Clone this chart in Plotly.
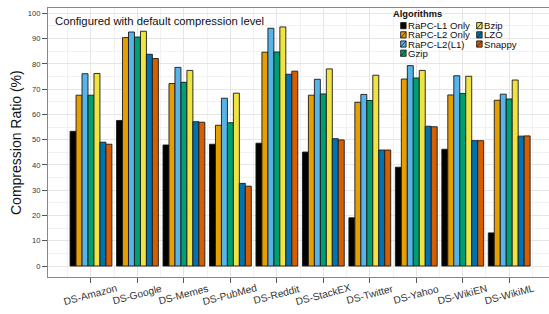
import plotly.graph_objects as go

categories = ["DS-Amazon", "DS-Google", "DS-Memes", "DS-PubMed", "DS-Reddit",
              "DS-StackEX", "DS-Twitter", "DS-Yahoo", "DS-WikiEN", "DS-WikiML"]

rapc_l1_only = [53.3, 57.6, 47.9, 48.2, 48.6, 45.1, 19.1, 39.1, 46.2, 13.1]
rapc_l2_only = [67.6, 90.4, 72.2, 55.7, 84.6, 67.6, 64.8, 74.0, 67.7, 65.6]
rapc_l2_l1 = [76.1, 92.6, 78.6, 66.4, 94.1, 73.9, 67.9, 79.3, 75.3, 68.0]
gzip = [67.6, 90.6, 72.7, 56.7, 84.7, 68.1, 65.5, 74.4, 68.3, 66.1]
bzip = [76.2, 92.9, 77.4, 68.4, 94.6, 78.0, 75.5, 77.4, 75.1, 73.6]
lzo = [49.0, 83.8, 57.1, 32.7, 75.9, 50.4, 45.9, 55.3, 49.6, 51.4]
snappy = [48.2, 82.1, 56.9, 31.6, 77.1, 49.9, 45.9, 55.1, 49.6, 51.5]

series_names = ["RaPC-L1 Only", "RaPC-L2 Only", "RaPC-L2(L1)", "Gzip", "Bzip", "LZO", "Snappy"]
series_values = [rapc_l1_only, rapc_l2_only, rapc_l2_l1, gzip, bzip, lzo, snappy]
colors = ["#000000", "#E69F00", "#56B4E9", "#009E73", "#F0E442", "#0072B2", "#D55E00"]

y_ticks = list(range(0, 101, 10))

W, H = 549, 314
PL, PR, PT, PB = 48, 0, 8, 36.5
pw = W - PL - PR
ph = H - PT - PB


def px(x):
    return (x - PL) / pw


def py(y):
    return (H - PB - y) / ph


FONT = "Liberation Sans, Arial, Helvetica, sans-serif"
xpos = list(range(len(categories)))

fig = go.Figure()
for name, vals, col in zip(series_names, series_values, colors):
    fig.add_trace(go.Bar(
        x=xpos, y=vals, name=name, showlegend=False,
        marker=dict(color=col, line=dict(color="#1a1a1a", width=0.9)),
    ))

annotations = []
# x category labels (rotated, centered on ticks)
for i, c in enumerate(categories):
    annotations.append(dict(
        x=i, xref="x", y=py(295.5), yref="paper", text=c, showarrow=False,
        textangle=-15, xanchor="center", yanchor="middle", borderpad=0,
        font=dict(family=FONT, size=10.2, color="#333333"),
    ))
# y title
annotations.append(dict(
    x=px(15.5), xref="paper", y=0.5, yref="paper", text="Compression Ratio (%)",
    showarrow=False, textangle=-90, xanchor="center", yanchor="middle", borderpad=0,
    font=dict(family=FONT, size=14, color="#111111"),
))
# inner label
annotations.append(dict(
    x=px(54), xref="paper", y=py(21.5), yref="paper",
    text="Configured with default compression level", showarrow=False, borderpad=0,
    xanchor="left", yanchor="middle", font=dict(family=FONT, size=11.3, color="#111111"),
))
# legend title
annotations.append(dict(
    x=px(392), xref="paper", y=py(14), yref="paper", text="<b>Algorithms</b>",
    showarrow=False, xanchor="left", yanchor="middle", borderpad=0,
    font=dict(family=FONT, size=9.3, color="#111111"),
))

shapes = []
row_y = [25.7, 34.9, 44.1, 53.3]
for idx, (name, col) in enumerate(zip(series_names, colors)):
    column = 0 if idx < 4 else 1
    row = idx if idx < 4 else idx - 4
    kx0 = 400.7 if column == 0 else 476.7
    tx = 406.8 if column == 0 else 482.8
    cy = row_y[row]
    shapes.append(dict(type="rect", xref="paper", yref="paper",
                       x0=px(kx0), x1=px(kx0 + 5.4), y0=py(cy + 3.1), y1=py(cy - 3.1),
                       fillcolor=col, line=dict(color="#1a1a1a", width=0.9)))
    shapes.append(dict(type="line", xref="paper", yref="paper",
                       x0=px(kx0), x1=px(kx0 + 5.4), y0=py(cy + 3.1), y1=py(cy - 3.1),
                       line=dict(color="#1a1a1a", width=0.8)))
    annotations.append(dict(
        x=px(tx), xref="paper", y=py(cy), yref="paper", text=name, showarrow=False,
        xanchor="left", yanchor="middle", borderpad=0,
        font=dict(family=FONT, size=9.6, color="#111111"),
    ))

fig.update_layout(
    width=W, height=H,
    margin=dict(l=PL, r=PR, t=PT, b=PB, pad=0, autoexpand=False),
    paper_bgcolor="white", plot_bgcolor="white",
    barmode="group", bargap=0.1, bargroupgap=0,
    font=dict(family=FONT, color="#333333"),
    annotations=annotations, shapes=shapes,
    showlegend=False,
)
fig.update_xaxes(
    type="linear", range=[-0.925, 9.856], automargin=False,
    tickmode="array", tickvals=xpos, showticklabels=False,
    ticks="outside", ticklen=5, tickcolor="#555555", tickwidth=1,
    showline=True, linecolor="#888888", linewidth=1, mirror=True,
    showgrid=True, gridcolor="#E6E6E6", gridwidth=1,
    minor=dict(tickmode="linear", tick0=-0.5, dtick=1, showgrid=True,
               gridcolor="#F1F1F1", gridwidth=1, ticks=""),
    zeroline=False, fixedrange=True,
)
fig.update_yaxes(
    range=[-4.34, 102.1], automargin=False,
    tickmode="array", tickvals=y_ticks, ticktext=[str(v) for v in y_ticks],
    ticks="outside", ticklen=5, tickcolor="#555555", tickwidth=1,
    tickfont=dict(family=FONT, size=7.6, color="#333333"),
    showline=True, linecolor="#888888", linewidth=1,
    showgrid=True, gridcolor="#E6E6E6", gridwidth=1,
    minor=dict(tickmode="linear", tick0=5, dtick=10, showgrid=True,
               gridcolor="#F1F1F1", gridwidth=1, ticks=""),
    zeroline=False, fixedrange=True,
)

fig.write_html(
    "out.html",
    config={"displayModeBar": False},
    post_script="document.body.style.margin='0';document.body.style.overflow='hidden';",
)
